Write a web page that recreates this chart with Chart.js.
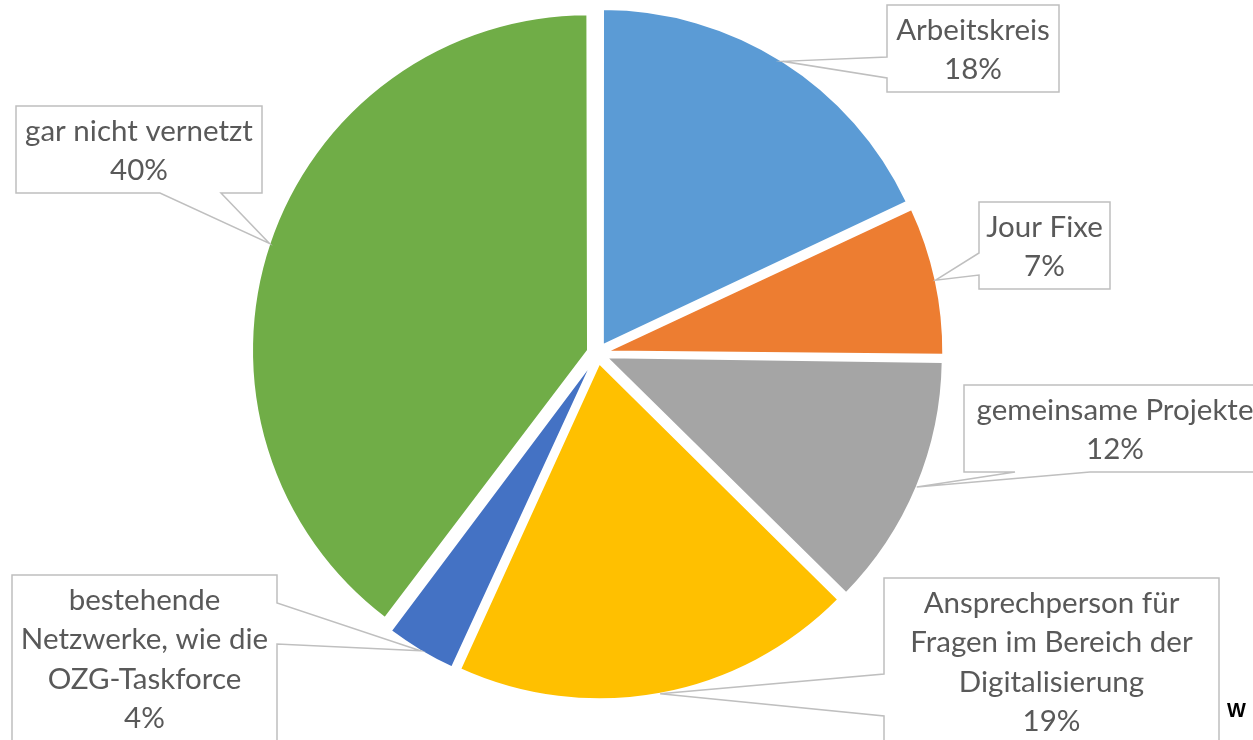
<!DOCTYPE html>
<html>
<head>
<meta charset="utf-8">
<script src="https://cdn.jsdelivr.net/npm/chart.js@4"></script>
<style>
  html, body { margin: 0; padding: 0; background: #ffffff; overflow: hidden; }
  #wrap { position: relative; width: 1253px; height: 740px; }
</style>
</head>
<body>
<div id="wrap"><canvas id="c" width="1253" height="740"></canvas></div>
<script>
// ---- data ----
const categories = [
  'Arbeitskreis',
  'Jour Fixe',
  'gemeinsame Projekte',
  'Ansprechperson für Fragen im Bereich der Digitalisierung',
  'bestehende Netzwerke, wie die OZG-Taskforce',
  'gar nicht vernetzt'
];
const labelLines = [
  ['Arbeitskreis'],
  ['Jour Fixe'],
  ['gemeinsame Projekte'],
  ['Ansprechperson für', 'Fragen im Bereich der', 'Digitalisierung'],
  ['bestehende', 'Netzwerke, wie die', 'OZG-Taskforce'],
  ['gar nicht vernetzt']
];
const shares = [18.0, 7.2, 12.2, 19.4, 3.5, 39.7];
const sliceColors = ['#5B9BD5', '#ED7D31', '#A5A5A5', '#FFC000', '#4472C4', '#70AD47'];

// ---- layout (callout boxes, pixel positions) ----
const calloutBoxes = [
  { x: 887, y: 5,   w: 172, h: 87,  side: 'left',   a: 57,   b: 78 },
  { x: 979, y: 202, w: 131, h: 87,  side: 'left',   a: 253,  b: 275 },
  { x: 964, y: 385, w: 302, h: 87,  side: 'bottom', a: 1015, b: 1090 },
  { x: 884, y: 578, w: 335, h: 170, side: 'left',   a: 674,  b: 716 },
  { x: 12,  y: 575, w: 265, h: 170, side: 'right',  a: 603,  b: 644 },
  { x: 16,  y: 106, w: 246, h: 87,  side: 'bottom', a: 160,  b: 221 }
];
const PIE_RADIUS = 336;
const OFFSET = 40;            // Chart.js arc offset option
const SHIFT = OFFSET / 4;     // resulting translation of each slice
const FONT = '29.5px Lato';
const LINE_H = 39.3;

const radiusFix = {
  id: 'radiusFix',
  beforeDatasetsDraw(chart) {
    chart.getDatasetMeta(0).data.forEach(arc => {
      const circ = arc.endAngle - arc.startAngle;
      const fix = 1 - Math.sin(Math.min(Math.PI, circ));
      arc._origR = arc.outerRadius;
      arc.outerRadius = PIE_RADIUS - SHIFT * fix;
    });
  },
  afterDatasetsDraw(chart) {
    chart.getDatasetMeta(0).data.forEach(arc => {
      if (arc._origR !== undefined) arc.outerRadius = arc._origR;
    });
  }
};

const callouts = {
  id: 'callouts',
  afterDraw(chart) {
    const ctx = chart.ctx;
    const meta = chart.getDatasetMeta(0);
    const total = shares.reduce((s, v) => s + v, 0);
    ctx.save();
    meta.data.forEach((arc, i) => {
      const bx = calloutBoxes[i];
      const mid = (arc.startAngle + arc.endAngle) / 2;
      const r = PIE_RADIUS + SHIFT;
      const tx = arc.x + Math.cos(mid) * r;
      const ty = arc.y + Math.sin(mid) * r;
      const x0 = bx.x, y0 = bx.y, x1 = bx.x + bx.w, y1 = bx.y + bx.h;
      ctx.beginPath();
      if (bx.side === 'left') {
        ctx.moveTo(x0, y0); ctx.lineTo(x1, y0); ctx.lineTo(x1, y1); ctx.lineTo(x0, y1);
        ctx.lineTo(x0, bx.b); ctx.lineTo(tx, ty); ctx.lineTo(x0, bx.a);
      } else if (bx.side === 'right') {
        ctx.moveTo(x0, y0); ctx.lineTo(x1, y0); ctx.lineTo(x1, bx.a); ctx.lineTo(tx, ty);
        ctx.lineTo(x1, bx.b); ctx.lineTo(x1, y1); ctx.lineTo(x0, y1);
      } else {
        ctx.moveTo(x0, y0); ctx.lineTo(x1, y0); ctx.lineTo(x1, y1);
        ctx.lineTo(bx.b, y1); ctx.lineTo(tx, ty); ctx.lineTo(bx.a, y1); ctx.lineTo(x0, y1);
      }
      ctx.closePath();
      ctx.fillStyle = '#ffffff';
      ctx.fill();
      ctx.lineWidth = 1.5;
      ctx.strokeStyle = '#BFBFBF';
      ctx.lineJoin = 'miter';
      ctx.stroke();

      const lines = labelLines[i].concat([Math.round(shares[i] / total * 100) + '%']);
      ctx.fillStyle = '#595959';
      ctx.font = FONT;
      ctx.textAlign = 'center';
      ctx.textBaseline = 'alphabetic';
      const cx = x0 + bx.w / 2;
      lines.forEach((t, k) => {
        ctx.fillText(t, cx, y0 + 35 + k * LINE_H);
      });
    });
    ctx.fillStyle = '#000000';
    ctx.font = 'bold 20px "Liberation Sans"';
    ctx.textAlign = 'left';
    ctx.fillText('W', 1227, 717);
    ctx.restore();
  }
};

new Chart(document.getElementById('c'), {
  type: 'pie',
  data: {
    labels: categories,
    datasets: [{
      data: shares,
      backgroundColor: sliceColors,
      borderColor: '#ffffff',
      borderWidth: 2,
      offset: OFFSET,
      hoverOffset: 0,
      radius: PIE_RADIUS,
      clip: false
    }]
  },
  options: {
    responsive: false,
    animation: false,
    events: [],
    layout: { padding: { top: 0, bottom: 33, left: 244, right: 302 } },
    plugins: {
      legend: { display: false },
      tooltip: { enabled: false }
    }
  },
  plugins: [radiusFix, callouts]
});
</script>
</body>
</html>
